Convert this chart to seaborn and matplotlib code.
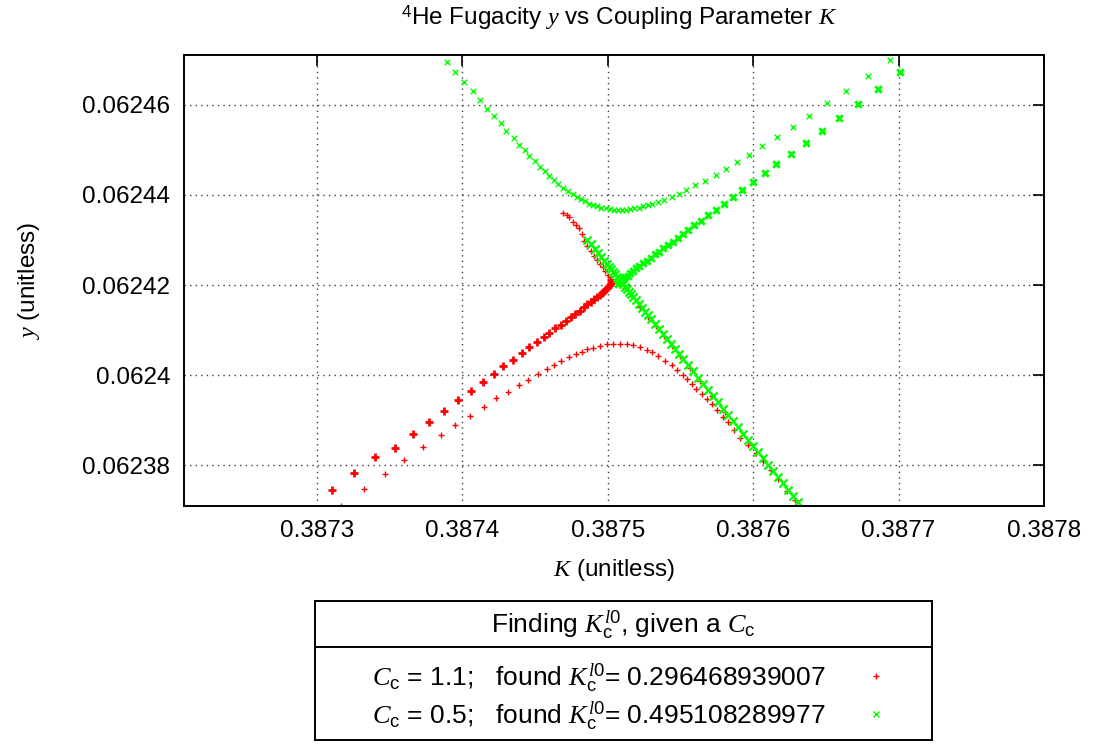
import matplotlib
matplotlib.use("Agg")
import matplotlib.pyplot as plt
import seaborn as sns
from matplotlib.lines import Line2D

# C_c = 1.1 (red): lower-left arm rising into the crossing (bold, overplotted)
red_lower_k = [0.3873101, 0.3873257, 0.3873401, 0.3873536, 0.3873660, 0.3873770, 0.3873873,
               0.3873972, 0.3874059, 0.3874140, 0.3874217, 0.3874281, 0.3874346, 0.3874408,
               0.3874460, 0.3874511, 0.3874559, 0.3874598, 0.3874639, 0.3874676, 0.3874713,
               0.3874745, 0.3874776, 0.3874809, 0.3874836, 0.3874860, 0.3874885, 0.3874905,
               0.3874926, 0.3874943, 0.3874960, 0.3874974, 0.3874988, 0.3875001, 0.3875012,
               0.3875019, 0.3875022]
red_lower_y = [0.0623744, 0.0623782, 0.0623817, 0.0623838, 0.0623869, 0.0623896, 0.0623920,
               0.0623944, 0.0623965, 0.0623984, 0.0624002, 0.0624019, 0.0624034, 0.0624048,
               0.0624062, 0.0624073, 0.0624084, 0.0624094, 0.0624104, 0.0624112, 0.0624121,
               0.0624129, 0.0624136, 0.0624143, 0.0624151, 0.0624157, 0.0624163, 0.0624168,
               0.0624173, 0.0624178, 0.0624182, 0.0624187, 0.0624191, 0.0624196, 0.0624200,
               0.0624204, 0.0624210]
# red arm turning back up-left from the crossing
red_upper_k = [0.3875012, 0.3874998, 0.3874981, 0.3874964, 0.3874946, 0.3874926, 0.3874905,
               0.3874885, 0.3874860, 0.3874836, 0.3874819, 0.3874799, 0.3874779, 0.3874759,
               0.3874735, 0.3874716, 0.3874695]
red_upper_y = [0.0624217, 0.0624223, 0.0624231, 0.0624239, 0.0624247, 0.0624255, 0.0624265,
               0.0624275, 0.0624286, 0.0624298, 0.0624314, 0.0624327, 0.0624334, 0.0624341,
               0.0624350, 0.0624356, 0.0624361]
# red points under the green falling line, below the crossing
red_tail_k = [0.3875118, 0.3875166, 0.3875222, 0.3875277, 0.3875332, 0.3875387, 0.3875442,
              0.3875497, 0.3875565, 0.3875634, 0.3875717, 0.3875806]
red_tail_y = [0.0624194, 0.0624175, 0.0624152, 0.0624130, 0.0624108, 0.0624086, 0.0624064,
              0.0624042, 0.0624015, 0.0623986, 0.0623953, 0.0623917]
# red lower arc (thin)
red_arc_k = [0.3873165, 0.3873323, 0.3873470, 0.3873600, 0.3873731, 0.3873851, 0.3873947,
             0.3874050, 0.3874151, 0.3874231, 0.3874312, 0.3874389, 0.3874449, 0.3874518,
             0.3874580, 0.3874632, 0.3874678, 0.3874731, 0.3874779, 0.3874823, 0.3874859,
             0.3874900, 0.3874946, 0.3874992, 0.3875038, 0.3875084, 0.3875130, 0.3875175,
             0.3875222, 0.3875268, 0.3875302, 0.3875347, 0.3875393, 0.3875440, 0.3875474,
             0.3875515, 0.3875543, 0.3875581, 0.3875607, 0.3875650, 0.3875680, 0.3875715,
             0.3875749, 0.3875790, 0.3875829, 0.3875868, 0.3875909, 0.3875962, 0.3876017,
             0.3876065, 0.3876120, 0.3876169, 0.3876230, 0.3876288]
red_arc_y = [0.0623710, 0.0623747, 0.0623781, 0.0623811, 0.0623840, 0.0623866, 0.0623888,
             0.0623909, 0.0623929, 0.0623948, 0.0623963, 0.0623977, 0.0623990, 0.0624002,
             0.0624013, 0.0624023, 0.0624031, 0.0624039, 0.0624046, 0.0624052, 0.0624058,
             0.0624060, 0.0624064, 0.0624068, 0.0624068, 0.0624068, 0.0624068, 0.0624066,
             0.0624062, 0.0624056, 0.0624051, 0.0624043, 0.0624032, 0.0624022, 0.0624012,
             0.0623999, 0.0623991, 0.0623980, 0.0623968, 0.0623957, 0.0623946, 0.0623935,
             0.0623922, 0.0623907, 0.0623895, 0.0623878, 0.0623861, 0.0623844, 0.0623827,
             0.0623810, 0.0623789, 0.0623768, 0.0623743, 0.0623722]

# C_c = 0.5 (green): upper arc
green_arc_k = [0.3873892, 0.3873949, 0.3874011, 0.3874071, 0.3874121, 0.3874169, 0.3874219,
               0.3874263, 0.3874302, 0.3874353, 0.3874391, 0.3874433, 0.3874460, 0.3874501,
               0.3874532, 0.3874570, 0.3874598, 0.3874632, 0.3874660, 0.3874694, 0.3874726,
               0.3874759, 0.3874786, 0.3874816, 0.3874845, 0.3874873, 0.3874900, 0.3874928,
               0.3874955, 0.3874986, 0.3875015, 0.3875043, 0.3875070, 0.3875098, 0.3875125,
               0.3875155, 0.3875182, 0.3875213, 0.3875244, 0.3875277, 0.3875306, 0.3875343,
               0.3875389, 0.3875440, 0.3875488, 0.3875538, 0.3875600, 0.3875671, 0.3875742,
               0.3875811, 0.3875891, 0.3875971, 0.3876061, 0.3876162, 0.3876274, 0.3876382,
               0.3876510, 0.3876640, 0.3876792, 0.3876941]
green_arc_y = [0.0624696, 0.0624673, 0.0624652, 0.0624631, 0.0624610, 0.0624592, 0.0624575,
               0.0624559, 0.0624542, 0.0624526, 0.0624512, 0.0624499, 0.0624487, 0.0624475,
               0.0624463, 0.0624453, 0.0624443, 0.0624434, 0.0624424, 0.0624416, 0.0624409,
               0.0624402, 0.0624396, 0.0624391, 0.0624386, 0.0624381, 0.0624378, 0.0624375,
               0.0624372, 0.0624370, 0.0624368, 0.0624367, 0.0624367, 0.0624367, 0.0624367,
               0.0624368, 0.0624370, 0.0624372, 0.0624375, 0.0624378, 0.0624381, 0.0624384,
               0.0624389, 0.0624395, 0.0624403, 0.0624412, 0.0624423, 0.0624432, 0.0624445,
               0.0624458, 0.0624474, 0.0624489, 0.0624508, 0.0624528, 0.0624551, 0.0624576,
               0.0624604, 0.0624632, 0.0624665, 0.0624700]
# green arm rising from the crossing to the upper right (bold, overplotted)
green_rise_k = [0.3877010, 0.3876860, 0.3876721, 0.3876592, 0.3876471, 0.3876361, 0.3876260,
                0.3876159, 0.3876081, 0.3876001, 0.3875925, 0.3875860, 0.3875796, 0.3875741,
                0.3875689, 0.3875639, 0.3875595, 0.3875554, 0.3875515, 0.3875481, 0.3875446,
                0.3875412, 0.3875380, 0.3875352, 0.3875323, 0.3875295, 0.3875268, 0.3875240,
                0.3875215, 0.3875194, 0.3875173, 0.3875153, 0.3875136, 0.3875118, 0.3875105,
                0.3875091, 0.3875081, 0.3875070]
green_rise_y = [0.0624673, 0.0624635, 0.0624602, 0.0624570, 0.0624542, 0.0624515, 0.0624490,
                0.0624468, 0.0624448, 0.0624428, 0.0624411, 0.0624396, 0.0624380, 0.0624367,
                0.0624355, 0.0624343, 0.0624333, 0.0624322, 0.0624313, 0.0624305, 0.0624296,
                0.0624289, 0.0624282, 0.0624274, 0.0624268, 0.0624260, 0.0624254, 0.0624248,
                0.0624242, 0.0624237, 0.0624231, 0.0624226, 0.0624221, 0.0624217, 0.0624213,
                0.0624210, 0.0624207, 0.0624203]
# green line falling through the crossing to the lower right
green_fall_k = [0.3874857, 0.3874885, 0.3874912, 0.3874933, 0.3874953, 0.3874974, 0.3874995,
                0.3875008, 0.3875022, 0.3875036, 0.3875050, 0.3875063, 0.3875077, 0.3875091,
                0.3875105, 0.3875118, 0.3875132, 0.3875146, 0.3875160, 0.3875173, 0.3875194,
                0.3875215, 0.3875235, 0.3875256, 0.3875277, 0.3875297, 0.3875325, 0.3875352,
                0.3875380, 0.3875407, 0.3875435, 0.3875462, 0.3875490, 0.3875517, 0.3875552,
                0.3875586, 0.3875620, 0.3875655, 0.3875689, 0.3875724, 0.3875758, 0.3875792,
                0.3875827, 0.3875861, 0.3875896, 0.3875930, 0.3875964, 0.3875999, 0.3876033,
                0.3876067, 0.3876102, 0.3876136, 0.3876171, 0.3876205, 0.3876239, 0.3876274,
                0.3876308]
green_fall_y = [0.0624301, 0.0624290, 0.0624279, 0.0624271, 0.0624263, 0.0624254, 0.0624246,
                0.0624240, 0.0624235, 0.0624229, 0.0624224, 0.0624218, 0.0624213, 0.0624207,
                0.0624202, 0.0624196, 0.0624191, 0.0624185, 0.0624180, 0.0624174, 0.0624166,
                0.0624157, 0.0624149, 0.0624141, 0.0624133, 0.0624124, 0.0624113, 0.0624102,
                0.0624091, 0.0624080, 0.0624069, 0.0624058, 0.0624047, 0.0624036, 0.0624022,
                0.0624008, 0.0623994, 0.0623981, 0.0623967, 0.0623953, 0.0623939, 0.0623925,
                0.0623911, 0.0623898, 0.0623884, 0.0623870, 0.0623856, 0.0623842, 0.0623828,
                0.0623815, 0.0623801, 0.0623787, 0.0623773, 0.0623759, 0.0623745, 0.0623731,
                0.0623718]

x_ticks = [0.3873, 0.3874, 0.3875, 0.3876, 0.3877, 0.3878]
x_tick_labels = ['0.3873', '0.3874', '0.3875', '0.3876', '0.3877', '0.3878']
y_ticks = [0.06238, 0.0624, 0.06242, 0.06244, 0.06246]
y_tick_labels = ['0.06238', '0.0624', '0.06242', '0.06244', '0.06246']

legend_labels = [r'$C_\mathrm{c}$ = 1.1;   found $K_\mathrm{c}^{l\mathrm{0}}$= 0.296468939007',
                 r'$C_\mathrm{c}$ = 0.5;   found $K_\mathrm{c}^{l\mathrm{0}}$= 0.495108289977']

sns.set_theme(style='white')
plt.rcParams['font.family'] = ['Liberation Sans', 'DejaVu Sans']
plt.rcParams['mathtext.fontset'] = 'custom'
plt.rcParams['mathtext.it'] = 'Liberation Serif:italic'
plt.rcParams['mathtext.rm'] = 'Liberation Sans'
plt.rcParams['mathtext.sf'] = 'Liberation Sans'
plt.rcParams['text.color'] = 'black'
plt.rcParams['axes.labelcolor'] = 'black'

fs = 17.5
lfs = 19
fig = plt.figure(figsize=(10.93, 7.44), dpi=100)
ax = fig.add_axes([184 / 1093, 1 - 506 / 744, (1044 - 184) / 1093, (506 - 55) / 744])

red = '#ff0000'
green = '#00ff00'
thin = dict(s=20, linewidth=1.0)
bold = dict(s=28, linewidth=2.0)

sns.scatterplot(x=red_tail_k, y=red_tail_y, marker='+', color=red, ax=ax, **thin)
sns.scatterplot(x=red_arc_k, y=red_arc_y, marker='+', color=red, ax=ax, **thin)
sns.scatterplot(x=red_upper_k, y=red_upper_y, marker='+', color=red, ax=ax, **thin)
sns.scatterplot(x=red_lower_k, y=red_lower_y, marker='+', color=red, ax=ax, **bold)
sns.scatterplot(x=green_arc_k, y=green_arc_y, marker='x', color=green, ax=ax, s=16, linewidth=1.0)
sns.scatterplot(x=green_fall_k, y=green_fall_y, marker='x', color=green, ax=ax, s=34, linewidth=1.6)
sns.scatterplot(x=green_rise_k, y=green_rise_y, marker='x', color=green, ax=ax, s=22, linewidth=2.0)

ax.set_xlim(0.3872085, 0.3878)
ax.set_ylim(0.0623709, 0.0624711)
ax.set_xticks(x_ticks)
ax.set_xticklabels(x_tick_labels)
ax.set_yticks(y_ticks)
ax.set_yticklabels(y_tick_labels)
ax.tick_params(direction='in', length=8, width=1.2, top=True, right=True,
               labelsize=fs, pad=10, colors='black')
ax.grid(True, linestyle=(0, (1, 3)), color='0.25', linewidth=1.0)
for sp in ax.spines.values():
    sp.set_linewidth(1.4)
    sp.set_color('black')

ax.set_xlabel(r'$K$ (unitless)', fontsize=fs)
ax.set_ylabel(r'$y$ (unitless)', fontsize=fs)
ax.xaxis.set_label_coords(0.5, (506 - 557) / 451)
ax.yaxis.set_label_coords((42 - 184) / 860, 0.5)
fig.text(619 / 1093, 1 - 18 / 744, r'$^\mathrm{4}$He Fugacity $y$ vs Coupling Parameter $K$',
         ha='center', va='center', fontsize=fs)

# key box below the plot
lax = fig.add_axes([315 / 1093, 1 - 740 / 744, (932 - 315) / 1093, (740 - 601) / 744])
lax.set_xticks([])
lax.set_yticks([])
lax.set_xlim(0, 1)
lax.set_ylim(0, 1)
for sp in lax.spines.values():
    sp.set_linewidth(1.4)
    sp.set_color('black')
lax.axhline(1 - 46 / 139, color='black', linewidth=1.4)
lax.text(0.5, 1 - 24 / 139, r'Finding $K_\mathrm{c}^{l\mathrm{0}}$, given a $C_\mathrm{c}$',
         ha='center', va='center', fontsize=lfs)
handles = [Line2D([], [], marker='+', ls='', color=red, ms=5, mew=1.0),
           Line2D([], [], marker='x', ls='', color=green, ms=4.5, mew=1.0)]
lax.legend(handles, legend_labels, markerfirst=False, frameon=False, fontsize=lfs,
           loc='center right', bbox_to_anchor=((905 - 315) / 617, 1 - (697 - 601) / 139),
           handlelength=1.2, handletextpad=1.3, labelspacing=0.25, borderpad=0)

fig.savefig('out.png', dpi=100)
